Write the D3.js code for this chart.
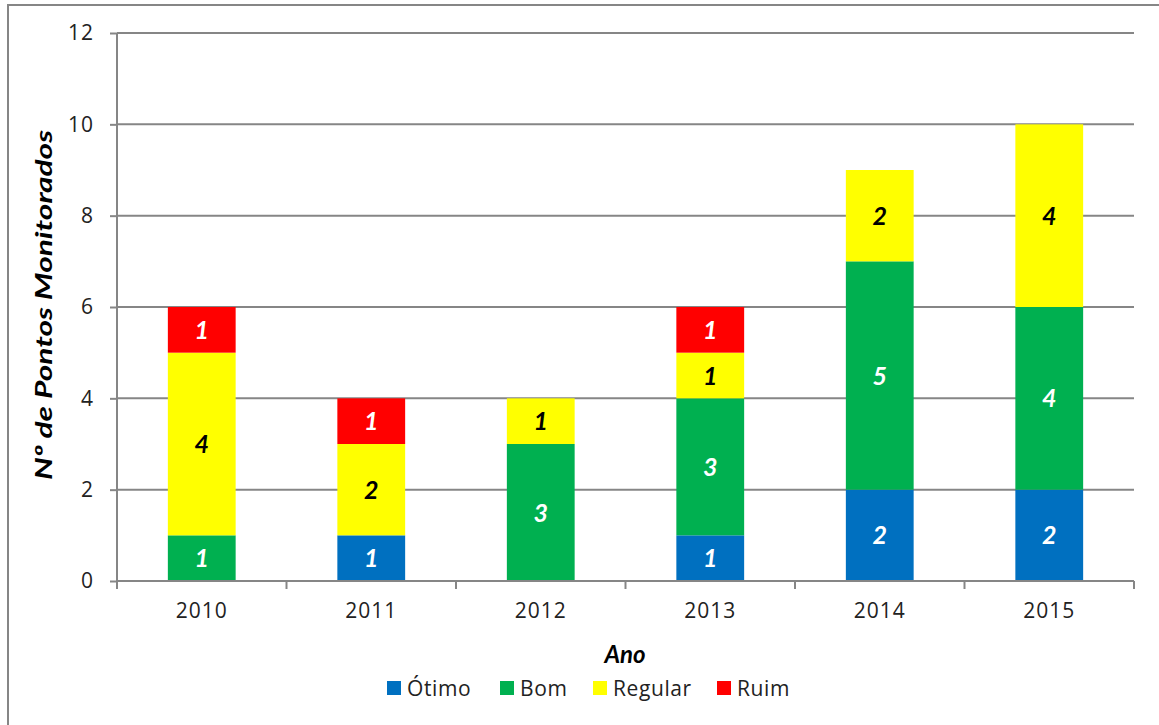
<!DOCTYPE html>
<html><head><meta charset="utf-8">
<script src="https://cdn.jsdelivr.net/npm/d3@7"></script>
<style>body{margin:0;background:#fff}svg{display:block}</style>
</head><body>
<svg id="c" width="1159" height="725"></svg>
<script>
const years = ["2010","2011","2012","2013","2014","2015"];
const seriesNames = ["Ótimo","Bom","Regular","Ruim"];
const otimo   = [0,1,0,1,2,2];
const bom     = [1,0,3,3,5,4];
const regular = [4,2,1,1,2,4];
const ruim    = [1,1,0,1,0,0];
const yTicks = [0,2,4,6,8,10,12];
const colors = ["#0070C0","#00B050","#FFFF00","#FF0000"];
const labelColors = ["#fff","#fff","#000","#fff"];

const svg = d3.select("#c");
const font = "Lato, 'Open Sans', sans-serif";
const font2 = "'Open Sans', Lato, sans-serif";
const m = {l:117, r:1134, t:33, b:581};

svg.append("rect").attr("x",8).attr("y",5).attr("width",1200).attr("height",800)
  .attr("fill","none").attr("stroke","#868686").attr("stroke-width",2);

const x = d3.scaleBand().domain(years).range([m.l,m.r]).paddingInner(0.6).paddingOuter(0.3);
const xb = d3.scaleBand().domain(years).range([m.l,m.r]);
const y = d3.scaleLinear().domain([0,12]).range([m.b,m.t]);

// gridlines
svg.append("g").selectAll("line").data(yTicks.filter(d=>d>0)).join("line")
  .attr("x1",m.l).attr("x2",m.r).attr("y1",d=>y(d)).attr("y2",d=>y(d))
  .attr("stroke","#868686").attr("stroke-width",2);

// stacked data
const table = years.map((yr,i)=>({year:yr,"Ótimo":otimo[i],"Bom":bom[i],"Regular":regular[i],"Ruim":ruim[i]}));
const stack = d3.stack().keys(seriesNames)(table);

const g = svg.append("g");
stack.forEach((s,si)=>{
  g.selectAll(null).data(s.filter(d=>d[1]-d[0]>0)).join("rect")
    .attr("x",d=>x(d.data.year)).attr("width",x.bandwidth())
    .attr("y",d=>y(d[1])).attr("height",d=>y(d[0])-y(d[1]))
    .attr("fill",colors[si]);
  g.selectAll(null).data(s.filter(d=>d[1]-d[0]>0)).join("text")
    .attr("x",d=>x(d.data.year)+x.bandwidth()/2)
    .attr("y",d=>(y(d[0])+y(d[1]))/2)
    .attr("dy","0.36em").attr("text-anchor","middle")
    .attr("font-family",font).attr("font-style","italic").attr("font-weight","bold")
    .attr("font-size",25).attr("fill",labelColors[si])
    .text(d=>d[1]-d[0]);
});

// y axis
const ya = svg.append("g").attr("transform",`translate(${m.l},0)`)
  .call(d3.axisLeft(y).tickValues(yTicks).tickSize(7).tickPadding(16));
ya.select(".domain").attr("stroke","#868686").attr("stroke-width",2).attr("d",`M0,${m.t}V${m.b}`);
ya.selectAll(".tick line").attr("stroke","#868686").attr("stroke-width",2);
ya.selectAll(".tick text").attr("font-family",font2).attr("font-size",21)
  .attr("letter-spacing",1).attr("fill","#222");

// x axis
const xa = svg.append("g").attr("transform",`translate(0,${m.b})`)
  .call(d3.axisBottom(xb).tickSize(0).tickPadding(22));
xa.select(".domain").attr("stroke","#868686").attr("stroke-width",2).attr("d",`M${m.l},0H${m.r}`);
xa.selectAll(".tick text").attr("font-family",font2).attr("font-size",21)
  .attr("letter-spacing",1).attr("fill","#222");
const bounds = years.map(d=>xb(d)).concat([m.r]);
svg.append("g").selectAll("line").data(bounds).join("line")
  .attr("x1",d=>d).attr("x2",d=>d).attr("y1",m.b).attr("y2",m.b+8)
  .attr("stroke","#868686").attr("stroke-width",2);

// titles
svg.append("text").attr("x",625).attr("y",663).attr("text-anchor","middle")
  .attr("font-family",font).attr("font-style","italic").attr("font-weight","bold")
  .attr("font-size",24).attr("fill","#000").text("Ano");
svg.append("text").attr("transform","translate(52,305) rotate(-90)").attr("text-anchor","middle")
  .attr("font-family",font).attr("font-style","italic").attr("font-weight","bold")
  .attr("font-size",23).attr("textLength",350).attr("lengthAdjust","spacingAndGlyphs")
  .attr("fill","#000").text("Nº de Pontos Monitorados");

// legend
const legX = [387,500,593,717];
const lg = svg.append("g").selectAll("g").data(seriesNames).join("g")
  .attr("transform",(d,i)=>`translate(${legX[i]},681)`);
lg.append("rect").attr("width",14).attr("height",14).attr("fill",(d,i)=>colors[i]);
lg.append("text").attr("x",20).attr("y",7).attr("dy","0.36em")
  .attr("font-family",font2).attr("font-size",21).attr("letter-spacing",0.6)
  .attr("fill","#222").text(d=>d);
</script>
</body></html>
